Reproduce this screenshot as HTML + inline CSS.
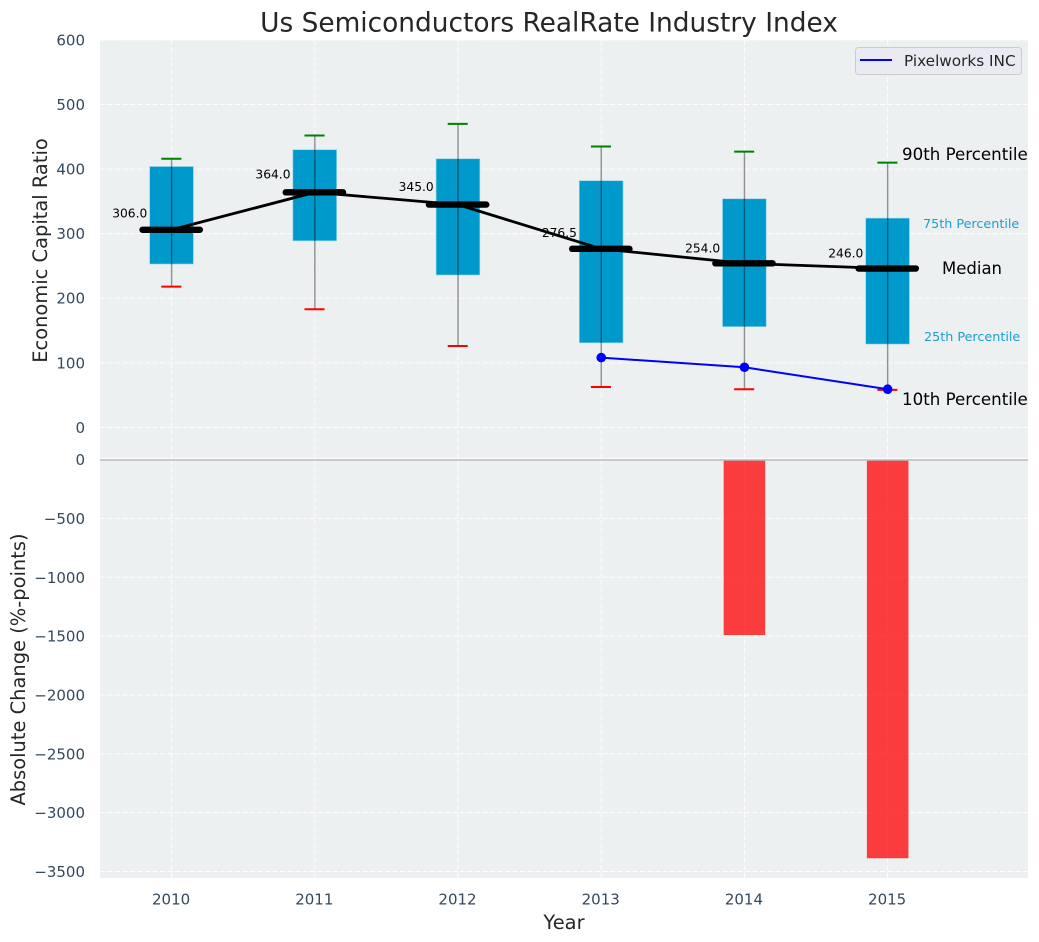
<!DOCTYPE html>
<html lang="en">
<head>
<meta charset="utf-8">
<title>Us Semiconductors RealRate Industry Index</title>
<style>
html,body{margin:0;padding:0;background:#fff;width:1039px;height:942px;overflow:hidden}
svg{display:block;font-family:"DejaVu Sans","Liberation Sans",sans-serif}
</style>
</head>
<body>
<svg id="chart" xmlns="http://www.w3.org/2000/svg" width="1039" height="942" viewBox="0 0 1039 942"></svg>
<script>
const years = [2010, 2011, 2012, 2013, 2014, 2015];
const p10 = [218, 183, 126, 62.5, 59, 58];
const p25 = [253, 289, 236, 131, 156, 129];
const medians = [306, 364, 345, 276.5, 254, 246];
const p75 = [404, 430, 416, 382, 354, 324];
const p90 = [416, 452, 470, 435, 427, 410];
const pixelworks = [null, null, null, 108, 93, 59];
const absoluteChange = [null, null, null, null, -1491, -3387];
const topTicks = [600, 500, 400, 300, 200, 100, 0];
const bottomTicks = [0, -500, -1000, -1500, -2000, -2500, -3000, -3500];
const seriesName = 'Pixelworks INC';

const NS = 'http://www.w3.org/2000/svg';
const svg = document.getElementById('chart');
const L = 100, R = 1028, T = 40, M = 459.6, B = 878;
const xMin = 2009.5, xMax = 2015.98;
const GRID = {stroke:'#fff', 'stroke-width':1, 'stroke-opacity':0.9, 'stroke-dasharray':'5.2 2.3'};
function X(v){ return L + (v - xMin) * (R - L) / (xMax - xMin); }
function Y1(v){ return T + (600 - v) * (M - T) / 650; }
function Y2(v){ return M + (0 - v) * (B - M) / 3555; }
function el(tag, attrs, text){
  const n = document.createElementNS(NS, tag);
  for (const k in attrs) n.setAttribute(k, attrs[k]);
  if (text !== undefined) n.textContent = text;
  svg.appendChild(n);
  return n;
}
function fmt(v){ return String(v).replace('-', '\u2212'); }
let e;

e = el('rect', {x:L, y:T, width:R-L, height:B-T, fill:'#ecf0f1'});



topTicks.forEach(function(t){
  let g = el('line', Object.assign({x1:L, x2:R, y1:Y1(t), y2:Y1(t)}, GRID));
  
  
  let l = el('text', {x:85, y:Y1(t)+5.5, 'text-anchor':'end', 'font-size':15, fill:'#34495e'}, fmt(t));
  
  
});
bottomTicks.forEach(function(t){
  if (t !== 0) {
    let g = el('line', Object.assign({x1:L, x2:R, y1:Y2(t), y2:Y2(t)}, GRID));
    
    
  }
  let l = el('text', {x:85, y:Y2(t)+5.5, 'text-anchor':'end', 'font-size':15, fill:'#34495e'}, fmt(t));
  
  
});
years.forEach(function(y){
  let g = el('line', Object.assign({x1:X(y), x2:X(y), y1:T, y2:B}, GRID));
  
  
  let l = el('text', {x:X(y)-0.5, y:904.5, 'text-anchor':'middle', 'font-size':15, fill:'#34495e'}, String(y));
  
  
});

// change bars
years.forEach(function(y, i){
  if (absoluteChange[i] === null) return;
  let b = el('rect', {x:X(y-0.145), width:X(y+0.145)-X(y-0.145), y:M, height:Y2(absoluteChange[i])-M, fill:'#ff0000', 'fill-opacity':0.75});
  
  
});

e = el('line', {x1:L, x2:R, y1:M-1, y2:M-1, stroke:'#fff', 'stroke-width':1});


e = el('line', {x1:L, x2:R, y1:M+0.4, y2:M+0.4, stroke:'#bbbbbb', 'stroke-width':1.4});



// boxes
years.forEach(function(y, i){
  let b = el('rect', {x:X(y-0.153), width:X(y+0.152)-X(y-0.153), y:Y1(p75[i]), height:Y1(p25[i])-Y1(p75[i]), fill:'#0099cc', stroke:'#8fd0e6', 'stroke-width':0.6});
  
  
  let w = el('line', {x1:X(y), x2:X(y), y1:Y1(p90[i]), y2:Y1(p10[i]), stroke:'#000', 'stroke-opacity':0.42, 'stroke-width':1.4});
  
  
  let c1 = el('line', {x1:X(y-0.072), x2:X(y+0.068), y1:Y1(p90[i]), y2:Y1(p90[i]), stroke:'#008000', 'stroke-width':2});
  
  
  let c2 = el('line', {x1:X(y-0.072), x2:X(y+0.068), y1:Y1(p10[i]), y2:Y1(p10[i]), stroke:'#ff0000', 'stroke-width':2});
  
  
});

// value labels
years.forEach(function(y, i){
  let l = el('text', {x:X(y)-24.3, y:Y1(medians[i]*1.04)-4.5, 'text-anchor':'end', 'font-size':12.25, fill:'#000'}, medians[i].toFixed(1));
  
  
});

// median trend
e = el('polyline', {points:years.map(function(y,i){ return X(y)+','+Y1(medians[i]); }).join(' '), fill:'none', stroke:'#000', 'stroke-width':2.8});


years.forEach(function(y, i){
  let m = el('line', {x1:X(y-0.203), x2:X(y+0.197), y1:Y1(medians[i]), y2:Y1(medians[i]), stroke:'#000', 'stroke-width':6.4, 'stroke-linecap':'round'});
  
  
});

// pixelworks series
const pts = [];
years.forEach(function(y, i){ if (pixelworks[i] !== null) pts.push([X(y), Y1(pixelworks[i])]); });
e = el('polyline', {points:pts.map(function(p){ return p.join(','); }).join(' '), fill:'none', stroke:'#0000ff', 'stroke-width':2});


pts.forEach(function(p){
  let d = el('circle', {cx:p[0], cy:p[1], r:4.8, fill:'#0000ff'});
  
  
});

// percentile annotations
e = el('text', {x:902, y:160, 'font-size':16.67, fill:'#000'}, '90th Percentile');


e = el('text', {x:923, y:228, 'font-size':12.75, fill:'#1a9fd0'}, '75th Percentile');


e = el('text', {x:942, y:274, 'font-size':16.5, fill:'#000'}, 'Median');


e = el('text', {x:924, y:341, 'font-size':12.75, fill:'#1a9fd0'}, '25th Percentile');


e = el('text', {x:902, y:405, 'font-size':16.67, fill:'#000'}, '10th Percentile');



// legend
e = el('rect', {x:855.5, y:47.5, width:166, height:27, rx:3, fill:'#eaeaf2', 'fill-opacity':0.9, stroke:'#cccccc', 'stroke-width':1});


e = el('line', {x1:860, x2:892, y1:60, y2:60, stroke:'#0000ff', 'stroke-width':2});


e = el('text', {x:904, y:66, 'font-size':15.28, fill:'#262626'}, seriesName);



// titles
e = el('text', {x:549, y:31.5, 'text-anchor':'middle', 'font-size':26.4, fill:'#262626'}, 'Us Semiconductors RealRate Industry Index');


e = el('text', {x:564, y:929, 'text-anchor':'middle', 'font-size':19.44, fill:'#262626'}, 'Year');


e = el('text', {transform:'translate(47,250.5) rotate(-90)', 'text-anchor':'middle', 'font-size':19.44, fill:'#262626'}, 'Economic Capital Ratio');


e = el('text', {transform:'translate(25,669.5) rotate(-90)', 'text-anchor':'middle', 'font-size':19.44, fill:'#262626'}, 'Absolute Change (%-points)');


</script>
</body>
</html>
